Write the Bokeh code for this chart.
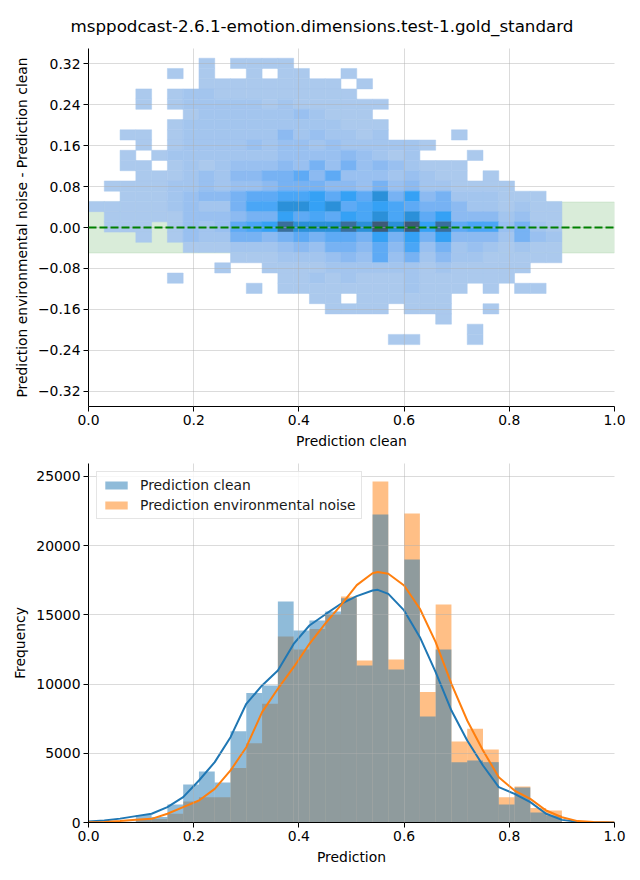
import numpy as np
from bokeh.plotting import figure
from bokeh.layouts import column
from bokeh.models import (Range1d, FixedTicker, Legend, LegendItem, Span,
                          CustomJSTickFormatter)
from bokeh.embed import file_html
from bokeh.resources import INLINE

TITLE = "msppodcast-2.6.1-emotion.dimensions.test-1.gold_standard"
FONT = "DejaVu Sans"

# ---------------- 2D histogram (top panel) ----------------
hm_x_start, hm_x_step = 0.0, 0.03        # 30 columns, 0.00 .. 0.90
hm_y_start, hm_y_step = -0.229, 0.02     # 28 rows, -0.229 .. 0.331
# rows listed from top (0.311..0.331) to bottom (-0.229..-0.209); one char per column, density level 0..B
hm_rows_top_down = [
    "000000010111100000000000000000",
    "000001010010110010000000000000",
    "000000011111111101000000000000",
    "000101221111111110000000000000",
    "000101222221211111100000000000",
    "000000122222232111000000000000",
    "000001222222222211100000000000",
    "001101222222423221200001000000",
    "000101222232332322222100000000",
    "001012222222333343212000100000",
    "001101212333435353432111000000",
    "000111232445564633323211010000",
    "011112232334555443534221111000",
    "001112344566778686958452221110",
    "111112322577998967876554221211",
    "011111333455867687979684442311",
    "011101323678A999A9B9B8A6773521",
    "000101322554565665858584442532",
    "000000111222343554647352321211",
    "000000000111222343635242211111",
    "000000001001111222222121111100",
    "000001000000112121112111111000",
    "000000000010111111112111010110",
    "000000000000001101111110000000",
    "000000000000000111101110010000",
    "000000000000000000000010000000",
    "000000000000000000000000100000",
    "000000000000000000011000100000",
]
hm_palette = ["#abc9ed", "#a3c5ee", "#99c0f0", "#8cbaf1", "#77b2f3", "#5eaaf5",
              "#4aa6f6", "#35a1f5", "#2b90d9", "#3a6e9b", "#3e5a77"]
band_half = 0.05
top_y_ticks = [-0.32, -0.24, -0.16, -0.08, 0.0, 0.08, 0.16, 0.24, 0.32]
x_ticks = [0.0, 0.2, 0.4, 0.6, 0.8, 1.0]

# ---------------- histograms (bottom panel) ----------------
hist_start, hist_step = 0.0, 0.03   # 33 bins, 0.00 .. 0.99
clean_counts = [0, 0, 60, 550, 400, 1300, 2750, 3690, 2890, 6600, 9350, 9900,
                15970, 13870, 14600, 15250, 16200, 11340, 22250, 11050, 19000,
                7660, 12500, 4360, 4480, 4360, 1300, 2530, 720, 500, 0, 0, 0]
noise_counts = [0, 0, 30, 200, 250, 630, 1520, 1830, 1830, 3930, 5730, 8580,
                13440, 12500, 13970, 15030, 16330, 11700, 24640, 11780, 22330,
                9420, 15750, 5850, 6770, 5270, 1830, 2600, 1040, 870, 50, 0, 80]
kde_x = [0.0, 0.03, 0.06, 0.09, 0.12, 0.15, 0.18, 0.21, 0.24, 0.27, 0.30, 0.33,
         0.36, 0.39, 0.42, 0.45, 0.48, 0.51, 0.54, 0.55, 0.57, 0.60, 0.63, 0.66,
         0.69, 0.72, 0.75, 0.78, 0.81, 0.84, 0.87, 0.90, 0.93, 0.96, 1.0]
kde_clean = [70, 150, 280, 460, 630, 1110, 1830, 3035, 4360, 6165, 8575, 9900,
             10980, 12900, 14230, 15030, 15800, 16350, 16760, 16810, 16520, 15320,
             13390, 10860, 8090, 5925, 4120, 2550, 2070, 1470, 630, 190, 50, 10, 0]
kde_noise = [10, 40, 100, 190, 265, 630, 1110, 1590, 2430, 3760, 5440, 7970,
             9660, 11220, 12910, 14360, 15700, 17150, 18010, 18090, 17970, 17120,
             15440, 13030, 10020, 7370, 5200, 3270, 2310, 1710, 870, 380, 100, 30, 0]
freq_ticks = [0, 5000, 10000, 15000, 20000, 25000]

C_BLUE = "#1f77b4"
C_ORANGE = "#ff7f0e"


def style(p):
    p.outline_line_color = None
    p.background_fill_color = "white"
    p.border_fill_color = "white"
    for ax in (p.xaxis[0], p.yaxis[0]):
        ax.axis_line_color = "black"
        ax.axis_line_width = 1
        ax.major_tick_line_color = "black"
        ax.major_tick_line_width = 1
        ax.major_tick_out = 5
        ax.major_tick_in = 0
        ax.minor_tick_out = 0
        ax.minor_tick_in = 0
        ax.major_label_text_font = FONT
        ax.major_label_text_font_size = "13.9px"
        ax.major_label_text_color = "black"
        ax.major_label_standoff = 3
        ax.axis_label_text_font = FONT
        ax.axis_label_text_font_size = "13.9px"
        ax.axis_label_text_font_style = "normal"
        ax.axis_label_text_color = "black"
        ax.axis_label_standoff = 5
    for g in (p.xgrid[0], p.ygrid[0]):
        g.grid_line_color = "#b0b0b0"
        g.grid_line_alpha = 0.45
        g.grid_line_width = 1
        g.level = "annotation"


# ---------------- top figure ----------------
p1 = figure(frame_width=526, frame_height=358, output_backend="svg",
            toolbar_location=None, x_range=Range1d(0, 1), y_range=Range1d(-0.35, 0.35),
            min_border_left=88, min_border_right=26, min_border_top=48, min_border_bottom=49)
p1.title.text = TITLE
p1.title.align = "left"
p1.title.offset = -18
p1.title.standoff = 26
p1.title.text_font = FONT
p1.title.text_font_size = "16.7px"
p1.title.text_font_style = "normal"
p1.title.text_color = "black"

# background band
p1.quad(left=[hm_x_start], right=[1.0], bottom=[-band_half], top=[band_half],
        fill_color="green", fill_alpha=0.15, line_color="green", line_alpha=0.1)

L, R, B, T, C = [], [], [], [], []
n_rows = len(hm_rows_top_down)
for r, row in enumerate(hm_rows_top_down):
    j = n_rows - 1 - r
    for i, ch in enumerate(row):
        lv = int(ch, 16)
        if lv == 0:
            continue
        L.append(hm_x_start + i * hm_x_step)
        R.append(hm_x_start + (i + 1) * hm_x_step)
        B.append(hm_y_start + j * hm_y_step)
        T.append(hm_y_start + (j + 1) * hm_y_step)
        C.append(hm_palette[lv - 1])
p1.quad(left=L, right=R, bottom=B, top=T, fill_color=C, line_color=C, line_width=0.5)

p1.add_layout(Span(location=0, dimension="width", line_color="green",
                   line_width=2, line_dash="8 3"))

p1.xaxis.axis_label = "Prediction clean"
p1.yaxis.axis_label = "Prediction environmental noise - Prediction clean"
p1.xaxis.ticker = FixedTicker(ticks=x_ticks)
p1.yaxis.ticker = FixedTicker(ticks=top_y_ticks)
p1.xaxis.formatter = CustomJSTickFormatter(code="return tick.toFixed(1);")
p1.yaxis.formatter = CustomJSTickFormatter(
    code="return (tick < 0 ? '\u2212' : '') + Math.abs(tick).toFixed(2);")
style(p1)

# ---------------- bottom figure ----------------
p2 = figure(frame_width=526, frame_height=359, output_backend="svg",
            toolbar_location=None, x_range=Range1d(0, 1), y_range=Range1d(0, 25935),
            min_border_left=88, min_border_right=26, min_border_top=8, min_border_bottom=50)

edges_l = [hist_start + k * hist_step for k in range(len(clean_counts))]
edges_r = [hist_start + (k + 1) * hist_step for k in range(len(clean_counts))]
r_noise = p2.quad(left=edges_l, right=edges_r, bottom=0, top=noise_counts,
                  fill_color=C_ORANGE, fill_alpha=0.5, line_color=None)
r_clean = p2.quad(left=edges_l, right=edges_r, bottom=0, top=clean_counts,
                  fill_color=C_BLUE, fill_alpha=0.5, line_color=None)
p2.line(kde_x, kde_clean, line_color=C_BLUE, line_width=2)
p2.line(kde_x, kde_noise, line_color=C_ORANGE, line_width=2)

legend = Legend(items=[LegendItem(label="Prediction clean", renderers=[r_clean]),
                       LegendItem(label="Prediction environmental noise", renderers=[r_noise])],
                location="top_left", margin=8, padding=5, spacing=4,
                glyph_width=28, glyph_height=10, label_standoff=10,
                label_text_font=FONT, label_text_font_size="13.9px",
                label_text_color="#1a1a1a",
                border_line_color="#cccccc", border_line_width=1,
                background_fill_alpha=0.8)
p2.add_layout(legend)

p2.xaxis.axis_label = "Prediction"
p2.yaxis.axis_label = "Frequency"
p2.xaxis.ticker = FixedTicker(ticks=x_ticks)
p2.yaxis.ticker = FixedTicker(ticks=freq_ticks)
p2.xaxis.formatter = CustomJSTickFormatter(code="return tick.toFixed(1);")
p2.yaxis.formatter = CustomJSTickFormatter(code="return tick.toFixed(0);")
style(p2)

layout = column(p1, p2, spacing=0)
open("out.html", "w").write(file_html(layout, INLINE, title="plot"))
